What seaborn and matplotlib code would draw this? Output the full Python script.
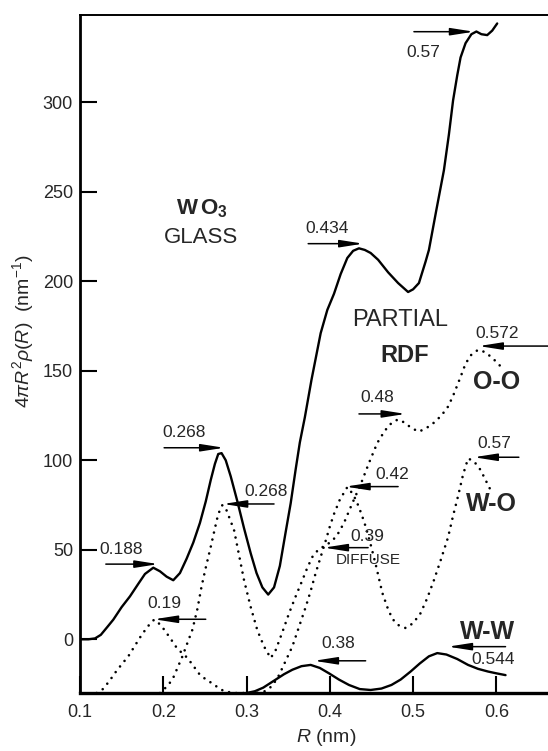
import pandas as pd
import seaborn as sns
import matplotlib.pyplot as plt

# total RDF of WO3 glass (solid)
r_total = [0.100, 0.110, 0.118, 0.125, 0.133, 0.140, 0.150, 0.160, 0.170, 0.178,
           0.188, 0.196, 0.204, 0.212, 0.220, 0.228, 0.236, 0.244, 0.251, 0.257,
           0.262, 0.266, 0.270, 0.275, 0.281, 0.289, 0.297, 0.305, 0.312, 0.319,
           0.326, 0.333, 0.340, 0.347, 0.353, 0.359, 0.364, 0.370, 0.378, 0.389,
           0.397, 0.405, 0.413, 0.421, 0.428, 0.435, 0.442, 0.449, 0.458, 0.470,
           0.482, 0.494, 0.500, 0.507, 0.515, 0.519, 0.528, 0.537, 0.543, 0.548,
           0.553, 0.557, 0.563, 0.570, 0.576, 0.582, 0.589, 0.595, 0.601]
g_total = [0, 0, 0.5, 2.5, 7, 11, 18, 24, 31, 36.5,
           40, 38, 35, 33, 37, 45, 54, 65, 77, 89,
           98, 103.5, 104, 100, 91, 77, 62, 48, 37, 29,
           25, 29, 41, 60, 76, 95, 110, 124, 145, 171,
           184, 193, 204, 213, 217, 218.4, 217.5, 215.8, 212, 205,
           199, 194, 195.5, 199, 211, 217.5, 240, 262, 282, 301,
           315, 325, 333, 338, 339.5, 338, 337.5, 340, 344]

# partial W-O (dotted)
r_wo = [0.120, 0.127, 0.135, 0.142, 0.150, 0.158, 0.166, 0.173, 0.181, 0.189,
        0.197, 0.204, 0.210, 0.215, 0.221, 0.227, 0.235, 0.242, 0.250, 0.258,
        0.266, 0.273, 0.285, 0.300, 0.312, 0.322, 0.331, 0.339, 0.347, 0.355,
        0.363, 0.371, 0.377, 0.383, 0.389, 0.395, 0.400, 0.405, 0.412, 0.421,
        0.428, 0.433, 0.438, 0.443, 0.449, 0.455, 0.459, 0.463, 0.469, 0.475,
        0.482, 0.491, 0.500, 0.509, 0.517, 0.525, 0.533, 0.542, 0.548, 0.554,
        0.560, 0.566, 0.573, 0.581, 0.587, 0.593]
g_wo = [-30, -28, -23.5, -18.8, -14, -9.5, -3.5, 1.7, 7, 11,
        8, 3.5, -0.5, -4, -7, -9.5, -14, -18.8, -22, -24.4,
        -27, -29, -30, -30, -30, -29, -26, -20, -12, -4,
        7, 18, 27, 37, 46, 55, 63, 70, 78, 85,
        81, 76, 70, 63, 53, 42, 34, 26, 18, 11.5,
        8, 6.3, 9, 14.6, 23, 33, 44, 57, 69, 80,
        92, 101, 99.5, 94.6, 89, 83.4]

# partial O-O (dotted)
r_oo = [0.196, 0.204, 0.211, 0.217, 0.223, 0.229, 0.235, 0.241, 0.246, 0.251,
        0.257, 0.262, 0.266, 0.271, 0.276, 0.285, 0.291, 0.297, 0.305, 0.313,
        0.321, 0.329, 0.335, 0.343, 0.351, 0.359, 0.367, 0.373, 0.379, 0.386,
        0.393, 0.400, 0.408, 0.417, 0.427, 0.437, 0.447, 0.457, 0.464, 0.470,
        0.476, 0.482, 0.490, 0.498, 0.507, 0.516, 0.525, 0.534, 0.542, 0.548,
        0.554, 0.559, 0.563, 0.570, 0.578, 0.586, 0.593, 0.600, 0.607]
g_oo = [-30, -26.5, -22.5, -16, -9.5, -2, 5.4, 17, 29.6, 40,
        51.7, 62, 70, 75, 72, 61, 47, 33, 18, 5,
        -4, -10.5, -6, 4, 14.5, 24, 33, 40, 46, 50,
        52, 54, 57.5, 65, 76, 86.5, 98.5, 109.7, 115, 119,
        121.5, 122.8, 121, 118, 116, 118, 121, 125, 130, 136,
        143, 149, 154, 159, 161.7, 160.5, 158, 155, 151.5]

# partial W-W (solid)
r_ww = [0.300, 0.310, 0.320, 0.335, 0.345, 0.355, 0.366, 0.377, 0.388, 0.399,
        0.411, 0.423, 0.436, 0.449, 0.462, 0.474, 0.485, 0.497, 0.508, 0.519,
        0.529, 0.540, 0.553, 0.566, 0.578, 0.590, 0.600, 0.611]
g_ww = [-30, -29, -27, -22.5, -19.5, -17, -15, -14.3, -16, -19,
        -22.5, -25.5, -27.8, -28.3, -27.5, -25.5, -22.5, -18, -13.5, -9.5,
        -7.7, -8.5, -11, -14.3, -16.5, -18, -19, -20]

x_ticks = [0.1, 0.2, 0.3, 0.4, 0.5, 0.6]
y_ticks = [0, 50, 100, 150, 200, 250, 300]

# peak markers: (label, arrow tail x, arrow tip x, arrow y, label x, label y)
peaks = [
    ('0.57', 0.501, 0.573, 339.4, 0.512, 328.0),
    ('0.434', 0.374, 0.440, 221.0, 0.397, 229.3),
    ('0.268', 0.201, 0.273, 107.0, 0.225, 115.5),
    ('0.188', 0.131, 0.194, 42.0, 0.149, 49.9),
    ('0.19', 0.251, 0.189, 11.2, 0.201, 19.9),
    ('0.268', 0.333, 0.272, 75.6, 0.324, 82.3),
    ('0.42', 0.482, 0.419, 85.3, 0.475, 92.3),
    ('0.39', 0.446, 0.393, 51.2, 0.4445, 57.7),
    ('0.48', 0.435, 0.491, 125.9, 0.457, 134.8),
    ('0.572', 0.663, 0.579, 163.8, 0.601, 170.7),
    ('0.57', 0.627, 0.573, 101.7, 0.598, 109.1),
    ('0.38', 0.443, 0.381, -12.0, 0.410, -2.6),
    ('0.544', 0.611, 0.542, -4.1, 0.596, -11.5),
]

sns.set_style('ticks')
plt.rcParams['font.family'] = ['Liberation Sans', 'DejaVu Sans']
plt.rcParams['mathtext.fontset'] = 'custom'
plt.rcParams['mathtext.rm'] = 'Liberation Sans'
plt.rcParams['mathtext.it'] = 'Liberation Sans:italic'
plt.rcParams['mathtext.bf'] = 'Liberation Sans:bold'

fig = plt.figure(figsize=(5.48, 7.51), dpi=100)
ax = fig.add_axes([0.146, 0.0772, 0.854, 0.903])

dots = (0, (0.01, 2.7))
sns.lineplot(x=r_total, y=g_total, ax=ax, color='black', lw=1.7, sort=False, estimator=None)
sns.lineplot(x=r_ww, y=g_ww, ax=ax, color='black', lw=1.7, sort=False, estimator=None)
sns.lineplot(x=r_wo, y=g_wo, ax=ax, color='black', lw=1.9, linestyle=dots,
             dash_capstyle='round', sort=False, estimator=None)
sns.lineplot(x=r_oo, y=g_oo, ax=ax, color='black', lw=1.9, linestyle=dots,
             dash_capstyle='round', sort=False, estimator=None)

for lab, x0, x1, yy, tx, ty in peaks:
    ax.annotate('', xy=(x1, yy), xytext=(x0, yy),
                arrowprops=dict(arrowstyle='-|>,head_length=1.4,head_width=0.22',
                                color='black', lw=1.1, shrinkA=0, shrinkB=0),
                annotation_clip=False)
    ax.text(tx, ty, lab, fontsize=12.5, ha='center', va='center')
ax.text(0.446, 44.5, 'DIFFUSE', fontsize=11, ha='center', va='center')

ax.text(0.2465, 240.8, r'$\mathbf{W\,O_3}$', fontsize=16, ha='center', va='center')
ax.text(0.245, 224.5, 'GLASS', fontsize=16, ha='center', va='center')
ax.text(0.484, 178.4, 'PARTIAL', fontsize=17, ha='center', va='center')
ax.text(0.490, 158.3, 'RDF', fontsize=17, fontweight='bold', ha='center', va='center')
ax.text(0.6006, 143.5, 'O-O', fontsize=18, fontweight='bold', ha='center', va='center')
ax.text(0.594, 75.6, 'W-O', fontsize=18, fontweight='bold', ha='center', va='center')
ax.text(0.589, 4.2, 'W-W', fontsize=18, fontweight='bold', ha='center', va='center')

ax.set_xlim(0.1, 0.662)
ax.set_ylim(-30, 348.8)
ax.set_xticks(x_ticks)
ax.set_xticklabels([f'{t:g}' for t in x_ticks])
ax.set_yticks(y_ticks)
ax.tick_params(direction='in', length=12, width=1.5, labelsize=13, color='black')
ax.tick_params(axis='x', pad=8)
ax.tick_params(axis='y', pad=5)

ax.spines['right'].set_visible(False)
ax.spines['left'].set_linewidth(2.0)
ax.spines['bottom'].set_linewidth(2.4)
ax.spines['top'].set_linewidth(1.4)
for s in ax.spines.values():
    s.set_color('black')

ax.set_xlabel(r'$R$ (nm)', fontsize=14)
ax.set_ylabel(r'$4\pi R^2\rho(R)$  (nm$^{-1}$)', fontsize=14)
ax.xaxis.set_label_coords(0.525, -0.05)
ax.yaxis.set_label_coords(-0.095, 0.534)

fig.savefig('out.png', dpi=100)
